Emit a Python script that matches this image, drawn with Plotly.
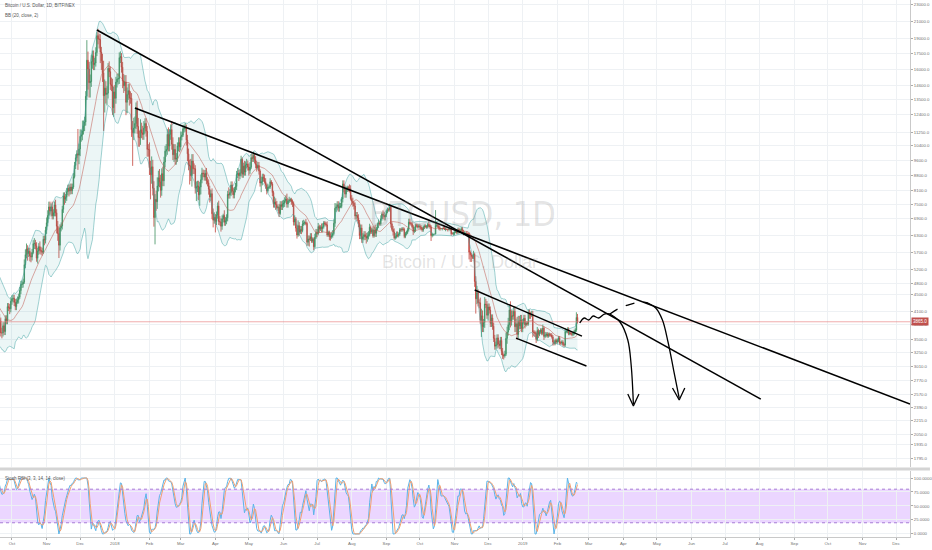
import numpy as np
import pandas as pd
import plotly.graph_objects as go

# ---------------- daily closes, BTC/USD (Bitfinex), one list per month ----------------
c_1708 = [4380, 4280, 4110, 4140, 4060, 4000, 4100, 4150, 4330, 4370, 4350, 4380, 4380, 4580, 4570, 4740]
c_1709 = [4920, 4580, 4620, 4300, 4430, 4610, 4620, 4310, 4330, 4250, 4220, 4170, 3880, 3240, 3690,
          3700, 3690, 4090, 3920, 3880, 3630, 3630, 3780, 3660, 3930, 3890, 4210, 4190, 4160, 4340]
c_1710 = [4400, 4410, 4310, 4210, 4320, 4370, 4440, 4610, 4770, 4780, 4830, 5330, 5640, 5830, 5680, 5750,
          5600, 5570, 5710, 6000, 6010, 5930, 5530, 5750, 5900, 5780, 5750, 5720, 6150, 6130, 6470]
c_1711 = [6750, 7030, 7380, 7210, 7380, 7020, 7140, 7460, 7140, 6620, 6350, 5950, 6560, 6630, 7280,
          7850, 7700, 7790, 8040, 8200, 8070, 8250, 8090, 8250, 8750, 9320, 9730, 9950, 9880, 10230]
c_1712 = [10980, 11070, 11320, 11650, 11900, 13750, 16850, 16050, 14850, 14950, 16730, 17280, 16430, 16590, 17600,
          19350, 19000, 18950, 17640, 16800, 15700, 13800, 14400, 13900, 14000, 16100, 15800, 14700, 14600, 12900, 14100]
c_1801 = [13600, 14900, 15150, 15200, 17100, 17200, 16200, 15000, 14600, 14900, 13300, 13900, 14200, 13600, 13600,
          11400, 11200, 11500, 11800, 12900, 11600, 10900, 10900, 11400, 11200, 11100, 11500, 11800, 11300, 10200, 10200]
c_1802 = [9200, 8850, 9250, 8200, 6950, 7700, 7600, 8300, 8700, 8500, 8100, 8900, 8550, 9500,
          10100, 10200, 11100, 10400, 11100, 11400, 10500, 9900, 10200, 9650, 9700, 10400, 10600, 10350]
c_1803 = [10950, 11050, 11450, 11500, 11500, 10750, 9950, 9350, 9300, 8800, 9550, 9150, 9150, 8200, 8270, 8300,
          7900, 8250, 8600, 8930, 8900, 8730, 8920, 8550, 8450, 8150, 7800, 7950, 7100, 6850, 6950]
c_1804 = [6800, 7050, 7420, 6800, 6780, 6620, 6900, 7030, 6770, 6830, 6940, 7920, 7890, 8000, 8350,
          8060, 7900, 8170, 8280, 8860, 8920, 8800, 8940, 9650, 8870, 9280, 8980, 9350, 9390, 9240]
c_1805 = [9070, 9220, 9740, 9700, 9860, 9620, 9370, 9190, 9320, 9030, 8440, 8500, 8720, 8680, 8500, 8340,
          8080, 8240, 8250, 8500, 8400, 8000, 7500, 7590, 7480, 7350, 7360, 7110, 7470, 7400, 7500]
c_1806 = [7530, 7640, 7720, 7500, 7620, 7660, 7690, 7620, 7530, 6780, 6900, 6550, 6300, 6640, 6400,
          6500, 6460, 6700, 6730, 6760, 6720, 6050, 6160, 6150, 6240, 6090, 6150, 5900, 6220, 6390]
c_1807 = [6350, 6610, 6510, 6590, 6530, 6600, 6750, 6710, 6670, 6300, 6390, 6240, 6230, 6270, 6350, 6730,
          7320, 7380, 7470, 7330, 7400, 7400, 7720, 8400, 8170, 7930, 8190, 8230, 8210, 8170, 7730]
c_1808 = [7620, 7540, 7420, 7010, 7030, 6940, 6720, 6280, 6550, 6150, 6240, 6310, 6250, 6190, 6270, 6310,
          6580, 6400, 6490, 6270, 6480, 6360, 6530, 6690, 6740, 6710, 6900, 7090, 7040, 6980, 7040]
c_1809 = [7190, 7270, 7260, 7370, 6700, 6500, 6410, 6200, 6240, 6300, 6280, 6330, 6490, 6480, 6520,
          6500, 6250, 6350, 6390, 6490, 6770, 6720, 6710, 6600, 6430, 6470, 6650, 6640, 6600, 6630]
c_1810 = [6590, 6530, 6480, 6580, 6620, 6590, 6600, 6680, 6650, 6590, 6280, 6320, 6330, 6330, 6650, 6650,
          6620, 6540, 6520, 6530, 6540, 6530, 6500, 6510, 6500, 6490, 6500, 6500, 6340, 6340, 6350]
c_1811 = [6390, 6420, 6390, 6500, 6420, 6460, 6530, 6420, 6350, 6370, 6370, 6360, 6330, 5720, 5640,
          5580, 5560, 5650, 4850, 4400, 4550, 4300, 4300, 3900, 4000, 3760, 3850, 4270, 4260, 4010]
c_1812 = [4200, 4130, 3830, 3950, 3770, 3520, 3370, 3390, 3530, 3410, 3380, 3480, 3270, 3200, 3190, 3220,
          3520, 3650, 3800, 4130, 3860, 4000, 3990, 4100, 3760, 3820, 3600, 3880, 3780, 3900, 3720]
c_1901 = [3850, 3940, 3800, 3840, 3820, 4060, 4010, 4010, 4030, 3650, 3640, 3620, 3500, 3680, 3600, 3650,
          3690, 3620, 3730, 3560, 3580, 3610, 3570, 3600, 3590, 3590, 3550, 3450, 3420, 3480, 3450]
c_1902 = [3480, 3530, 3430, 3430, 3450, 3400, 3390, 3660, 3660, 3710, 3620, 3630, 3620, 3600, 3620,
          3660, 3690, 3960, 3865]

# ---------------- wick lengths beyond the body (percent), per month ----------------
u_1708 = [3, 2, 4, 2, 3, 3, 4, 2, 2, 2, 2, 1, 2, 2, 2, 2]
d_1708 = [3, 3, 3, 2, 3, 4, 5, 2, 2, 2, 1, 1, 2, 1, 2, 1]
u_1709 = [3, 4, 2, 3, 2, 2, 2, 3, 3, 2, 2, 2, 3, 2, 2, 3, 2, 2, 2, 3, 2, 3, 2, 2, 2, 2, 2, 2, 2, 2]
d_1709 = [3, 5, 4, 4, 3, 3, 2, 4, 3, 2, 2, 3, 4, 10, 12, 4, 3, 2, 3, 3, 2, 3, 2, 2, 2, 2, 2, 2, 3, 2]
u_1710 = [2, 2, 2, 2, 2, 2, 2, 2, 2, 2, 2, 3, 3, 3, 2, 2, 2, 2, 2, 2, 3, 2, 2, 2, 2, 3, 2, 2, 2, 2, 2]
d_1710 = [2, 2, 2, 2, 2, 1, 2, 1, 2, 2, 2, 1, 2, 2, 4, 2, 3, 3, 2, 1, 3, 2, 2, 3, 2, 2, 2, 2, 1, 3, 2]
u_1711 = [3, 3, 3, 3, 2, 3, 2, 2, 3, 2, 3, 3, 2, 2, 2, 2, 2, 2, 2, 2, 2, 2, 2, 2, 2, 2, 2, 2, 15, 3]
d_1711 = [2, 2, 2, 2, 3, 2, 2, 2, 2, 4, 4, 7, 3, 2, 2, 2, 3, 2, 2, 2, 3, 2, 2, 2, 1, 1, 2, 2, 8, 5]
u_1712 = [4, 3, 6, 3, 3, 3, 12, 5, 4, 4, 4, 3, 3, 3, 3, 2, 4, 3, 3, 3, 4, 7, 5, 4, 4, 3, 4, 3, 4, 4, 3]
d_1712 = [4, 3, 3, 2, 3, 2, 2, 11, 8, 8, 3, 4, 3, 3, 2, 2, 3, 5, 6, 5, 5, 18, 9, 5, 6, 3, 3, 3, 3, 4, 5]
u_1801 = [4, 3, 3, 3, 3, 3, 2, 3, 4, 4, 4, 4, 4, 4, 4, 3, 5, 6, 4, 3, 4, 5, 4, 6, 4, 4, 4, 3, 3, 3, 3]
d_1801 = [8, 3, 3, 3, 3, 3, 3, 4, 4, 3, 7, 6, 3, 4, 3, 4, 17, 4, 3, 3, 4, 5, 5, 4, 3, 3, 3, 3, 3, 4, 4]
u_1802 = [4, 4, 6, 4, 4, 3, 5, 5, 4, 5, 4, 3, 4, 3, 3, 3, 3, 4, 3, 3, 5, 4, 3, 3, 3, 2, 3, 3]
d_1802 = [4, 13, 5, 4, 5, 14, 5, 4, 3, 3, 4, 3, 3, 3, 3, 3, 3, 3, 3, 3, 3, 3, 4, 3, 3, 2, 3, 3]
u_1803 = [3, 2, 2, 2, 3, 2, 3, 3, 3, 4, 4, 4, 3, 2, 3, 3, 3, 3, 3, 3, 2, 2, 2, 3, 2, 2, 2, 2, 3, 3, 3]
d_1803 = [2, 2, 1, 2, 2, 3, 4, 3, 10, 3, 6, 3, 3, 3, 7, 3, 3, 6, 4, 2, 2, 2, 2, 2, 2, 3, 3, 2, 3, 4, 2]
u_1804 = [2, 2, 2, 3, 3, 2, 2, 1, 3, 2, 2, 2, 4, 2, 2, 2, 2, 1, 2, 2, 3, 2, 2, 2, 1, 2, 3, 2, 3, 2]
d_1804 = [6, 2, 2, 2, 2, 3, 2, 2, 2, 2, 2, 2, 2, 2, 2, 2, 2, 2, 2, 2, 2, 3, 2, 2, 2, 2, 2, 2, 2, 2]
u_1805 = [2, 3, 2, 2, 2, 1, 2, 2, 2, 2, 1, 3, 2, 2, 2, 2, 1, 2, 1, 2, 1, 1, 1, 3, 2, 2, 1, 2, 2, 2, 2]
d_1805 = [3, 2, 1, 2, 2, 2, 2, 2, 1, 2, 2, 5, 2, 2, 1, 2, 2, 1, 1, 1, 1, 2, 2, 2, 3, 1, 2, 2, 1, 2, 2]
u_1806 = [2, 2, 2, 3, 1, 2, 1, 1, 1, 1, 2, 1, 2, 3, 2, 2, 2, 2, 2, 1, 2, 1, 2, 2, 2, 2, 1, 1, 2, 2]
d_1806 = [2, 2, 1, 2, 2, 1, 1, 2, 2, 2, 2, 2, 2, 1, 2, 1, 2, 1, 1, 1, 1, 2, 2, 4, 1, 1, 1, 2, 1, 1]
u_1807 = [2, 2, 1, 1, 2, 2, 1, 1, 1, 2, 1, 1, 2, 2, 2, 2, 3, 2, 2, 2, 2, 2, 1, 2, 2, 2, 1, 1, 1, 2, 2]
d_1807 = [2, 1, 2, 1, 2, 2, 1, 1, 1, 1, 1, 2, 2, 1, 1, 1, 2, 2, 2, 2, 2, 1, 1, 2, 2, 2, 2, 2, 2, 2, 1]
u_1808 = [2, 2, 1, 2, 2, 2, 2, 2, 2, 2, 2, 2, 2, 2, 2, 2, 2, 1, 1, 2, 2, 3, 1, 1, 2, 1, 2, 1, 2, 2, 1]
d_1808 = [2, 2, 2, 2, 2, 2, 2, 2, 2, 2, 2, 2, 2, 3, 2, 2, 1, 1, 1, 1, 1, 2, 2, 1, 2, 1, 1, 1, 2, 2, 2]
u_1809 = [1, 1, 1, 2, 1, 1, 2, 2, 2, 2, 2, 1, 1, 1, 1, 1, 1, 1, 1, 1, 2, 2, 1, 1, 1, 2, 1, 1, 1, 1]
d_1809 = [1, 1, 1, 1, 2, 1, 2, 1, 1, 1, 1, 1, 1, 1, 1, 1, 1, 1, 1, 1, 1, 1, 1, 1, 2, 1, 1, 1, 1, 1]
u_1810 = [1, 1, 1, 1, 1, 1, 1, 1, 2, 1, 1, 1, 0, 0, 9, 2, 1, 1, 1, 0, 0, 1, 1, 1, 0, 0, 1, 0, 0, 1, 1]
d_1810 = [1, 1, 1, 1, 1, 0, 1, 1, 1, 1, 3, 1, 1, 0, 0, 1, 1, 1, 1, 0, 1, 0, 0, 1, 0, 1, 0, 1, 1, 0, 1]
u_1811 = [1, 1, 1, 1, 1, 1, 1, 1, 1, 1, 0, 1, 0, 1, 1, 1, 1, 2, 1, 3, 4, 2, 2, 3, 4, 3, 2, 4, 3, 2]
d_1811 = [1, 0, 1, 1, 1, 1, 1, 1, 1, 0, 1, 1, 1, 4, 4, 3, 1, 1, 3, 8, 3, 2, 3, 2, 9, 3, 3, 3, 2, 2]
u_1812 = [2, 2, 2, 2, 2, 2, 2, 2, 2, 2, 2, 2, 2, 2, 1, 2, 3, 3, 4, 3, 5, 3, 3, 3, 3, 3, 4, 3, 3, 3, 3]
d_1812 = [3, 2, 2, 2, 2, 2, 2, 2, 2, 2, 2, 2, 2, 2, 2, 1, 1, 3, 2, 3, 3, 2, 2, 2, 3, 3, 3, 2, 2, 2, 2]
u_1901 = [2, 2, 2, 1, 1, 2, 2, 2, 2, 2, 1, 1, 1, 2, 1, 1, 1, 1, 2, 1, 2, 1, 1, 1, 1, 1, 1, 1, 1, 1, 1]
d_1901 = [2, 1, 2, 1, 1, 1, 2, 2, 1, 3, 2, 2, 2, 1, 2, 1, 1, 1, 1, 2, 1, 1, 1, 1, 1, 1, 1, 2, 1, 1, 1]
u_1902 = [1, 1, 1, 1, 1, 1, 1, 2, 1, 1, 1, 1, 1, 1, 1, 1, 1, 3, 2]
d_1902 = [1, 1, 1, 1, 1, 1, 1, 1, 1, 1, 1, 1, 1, 1, 1, 1, 1, 1, 1]

month_blocks = [
    ("2017-08-16", c_1708, u_1708, d_1708), ("2017-09-01", c_1709, u_1709, d_1709),
    ("2017-10-01", c_1710, u_1710, d_1710), ("2017-11-01", c_1711, u_1711, d_1711),
    ("2017-12-01", c_1712, u_1712, d_1712), ("2018-01-01", c_1801, u_1801, d_1801),
    ("2018-02-01", c_1802, u_1802, d_1802), ("2018-03-01", c_1803, u_1803, d_1803),
    ("2018-04-01", c_1804, u_1804, d_1804), ("2018-05-01", c_1805, u_1805, d_1805),
    ("2018-06-01", c_1806, u_1806, d_1806), ("2018-07-01", c_1807, u_1807, d_1807),
    ("2018-08-01", c_1808, u_1808, d_1808), ("2018-09-01", c_1809, u_1809, d_1809),
    ("2018-10-01", c_1810, u_1810, d_1810), ("2018-11-01", c_1811, u_1811, d_1811),
    ("2018-12-01", c_1812, u_1812, d_1812), ("2019-01-01", c_1901, u_1901, d_1901),
    ("2019-02-01", c_1902, u_1902, d_1902),
]

# ---------------- drawings made on the chart (date, price) ----------------
tl_a_dates = ["2017-12-16", "2019-08-02"]
tl_a_price = [19980, 2500]
tl_b_dates = ["2018-01-19", "2019-12-13 12:00"]
tl_b_price = [12880, 2433]
ch_up_dates = ["2018-11-19", "2019-02-23"]
ch_up_price = [4622, 3567]
ch_lo_dates = ["2018-12-26", "2019-02-27"]
ch_lo_price = [3527, 3013]
fc_wave_dates = ["2019-02-21", "2019-02-25", "2019-03-01", "2019-03-05", "2019-03-10", "2019-03-15", "2019-03-20"]
fc_wave_price = [3838, 3948, 3904, 3993, 3948, 4038, 4038]
fc_drop1_dates = ["2019-03-20", "2019-03-29", "2019-04-05", "2019-04-08", "2019-04-10"]
fc_drop1_price = [4038, 3860, 3488, 3031, 2433]
fc_arrow1_dates = ["2019-04-05", "2019-04-10", "2019-04-15"]
fc_arrow1_price = [2573, 2406, 2573]
fc_arc_dates = ["2019-03-20", "2019-03-27", "2019-04-05", "2019-04-16", "2019-04-23"]
fc_arc_price = [4038, 4153, 4247, 4320, 4296]
fc_drop2_dates = ["2019-04-23", "2019-04-30", "2019-05-06", "2019-05-11", "2019-05-16", "2019-05-21"]
fc_drop2_price = [4296, 4177, 3904, 3449, 2946, 2516]
fc_arrow2_dates = ["2019-05-15", "2019-05-21", "2019-05-26"]
fc_arrow2_price = [2662, 2488, 2662]

# ---------------- axis ticks ----------------
price_ticks = [1795, 1935, 2050, 2215, 2390, 2570, 2770, 3010, 3250, 3500, 3800, 4100, 4500, 4800, 5200,
               5700, 6300, 6900, 7500, 8100, 8800, 9600, 10400, 11250, 12400, 13500, 14600, 16000,
               17500, 19000, 21000, 23000]
stoch_ticks = [0, 25, 50, 75, 100]
month_tick_dates = pd.date_range("2017-10-01", "2019-12-01", freq="MS")
month_tick_text = [d.strftime("%Y") if d.month == 1 else d.strftime("%b") for d in month_tick_dates]

# ---------------- build OHLC ----------------
dates, close, wup, wdn = [], [], [], []
for start, c, u, d in month_blocks:
    dates += list(pd.date_range(start, periods=len(c), freq="D"))
    close += c
    wup += (u + [1] * len(c))[:len(c)]
    wdn += (d + [1] * len(c))[:len(c)]
df = pd.DataFrame({"close": close, "up": wup, "dn": wdn}, index=pd.DatetimeIndex(dates))
df["open"] = df["close"].shift(1).fillna(df["close"])
body_hi = df[["open", "close"]].max(axis=1)
body_lo = df[["open", "close"]].min(axis=1)
df["high"] = body_hi * (1 + df["up"] / 100.0)
df["low"] = body_lo * (1 - df["dn"] / 100.0)

# Bollinger Bands (20, close, 2)
basis = df["close"].rolling(20).mean()
dev = df["close"].rolling(20).std(ddof=0)
bb_up = basis + 2 * dev
bb_lo = basis - 2 * dev

# Stoch RSI (3, 3, 14, 14)
delta = df["close"].diff()
gain = delta.clip(lower=0)
loss = (-delta).clip(lower=0)
ag = gain.ewm(alpha=1 / 14, adjust=False).mean()
al = loss.ewm(alpha=1 / 14, adjust=False).mean()
rsi = 100 - 100 / (1 + ag / al)
rmin = rsi.rolling(14).min()
rmax = rsi.rolling(14).max()
stoch = (rsi - rmin) / (rmax - rmin) * 100
k_line = stoch.rolling(3).mean()
d_line = k_line.rolling(3).mean()

vis = df.index >= pd.Timestamp("2017-09-19")
dv = df[vis]

X_RANGE = ["2017-09-20 07:00", "2019-12-13 12:00"]
Y_RANGE = [3.2321, 4.3739]
last_close = df["close"].iloc[-1]

fig = go.Figure()

# Bollinger fill + lines
fig.add_trace(go.Scatter(x=dv.index, y=bb_lo[vis], mode="lines", line=dict(color="rgba(60,160,160,0.6)", width=0.8),
                         hoverinfo="skip", showlegend=False, xaxis="x", yaxis="y"))
fig.add_trace(go.Scatter(x=dv.index, y=bb_up[vis], mode="lines", line=dict(color="rgba(60,160,160,0.6)", width=0.8),
                         fill="tonexty", fillcolor="rgba(40,150,150,0.09)",
                         hoverinfo="skip", showlegend=False, xaxis="x", yaxis="y"))
fig.add_trace(go.Scatter(x=dv.index, y=basis[vis], mode="lines", line=dict(color="rgba(190,80,70,0.7)", width=0.7),
                         hoverinfo="skip", showlegend=False, xaxis="x", yaxis="y"))

# candles
fig.add_trace(go.Candlestick(x=dv.index, open=dv["open"], high=dv["high"], low=dv["low"], close=dv["close"],
                             increasing=dict(line=dict(color="#3f8f5e", width=0.8), fillcolor="#3f8f5e"),
                             decreasing=dict(line=dict(color="#c4443b", width=0.8), fillcolor="#c4443b"),
                             whiskerwidth=0, hoverinfo="skip", showlegend=False, xaxis="x", yaxis="y"))

# current price line
fig.add_trace(go.Scatter(x=X_RANGE, y=[last_close, last_close], mode="lines",
                         line=dict(color="rgba(230,120,120,0.6)", width=1),
                         hoverinfo="skip", showlegend=False, xaxis="x", yaxis="y"))

# drawings
def draw(xs, ys, dash="solid", shape="linear", width=1.6):
    fig.add_trace(go.Scatter(x=xs, y=ys, mode="lines", line=dict(color="#000000", width=width, dash=dash, shape=shape),
                             hoverinfo="skip", showlegend=False, xaxis="x", yaxis="y"))

draw(tl_a_dates, tl_a_price)
draw(tl_b_dates, tl_b_price)
draw(ch_up_dates, ch_up_price, width=1.4)
draw(ch_lo_dates, ch_lo_price, width=1.4)
draw(fc_wave_dates, fc_wave_price, shape="spline", width=1.3)
draw(fc_drop1_dates, fc_drop1_price, shape="spline", width=1.3)
draw(fc_arrow1_dates, fc_arrow1_price, width=1.3)
draw(fc_arc_dates, fc_arc_price, dash="dash", shape="spline", width=1.3)
draw(fc_drop2_dates, fc_drop2_price, shape="spline", width=1.3)
draw(fc_arrow2_dates, fc_arrow2_price, width=1.3)

# stoch RSI
fig.add_trace(go.Scatter(x=dv.index, y=k_line[vis], mode="lines", line=dict(color="#5ab4e8", width=1),
                         hoverinfo="skip", showlegend=False, xaxis="x2", yaxis="y2"))
fig.add_trace(go.Scatter(x=dv.index, y=d_line[vis], mode="lines", line=dict(color="#f2a071", width=1),
                         hoverinfo="skip", showlegend=False, xaxis="x2", yaxis="y2"))

axis_font = dict(family="Liberation Sans, Arial, sans-serif", size=4.3, color="#6f6f6f")
grid = "#eef1f4"

SPLIT = 1 - 467 / 537.0
LOWER_TOP = 66 / 537.0

fig.update_layout(
    width=932, height=550,
    margin=dict(l=0, r=20, t=0, b=13),
    paper_bgcolor="white", plot_bgcolor="white",
    font=dict(family="Liberation Sans, Arial, sans-serif"),
    xaxis=dict(domain=[0, 1], anchor="y", range=X_RANGE, type="date", showticklabels=False,
               tickvals=month_tick_dates, gridcolor=grid, gridwidth=1, showline=False, zeroline=False,
               rangeslider=dict(visible=False)),
    yaxis=dict(domain=[SPLIT, 1], anchor="x", type="log", range=Y_RANGE, side="right",
               tickvals=price_ticks, ticktext=[f"{v:.1f}" for v in price_ticks], tickfont=axis_font,
               ticks="outside", ticklen=2, tickcolor="#aaaaaa", gridcolor=grid, showline=True,
               linecolor="#c9c9c9", linewidth=1, zeroline=False),
    xaxis2=dict(domain=[0, 1], anchor="y2", matches="x", range=X_RANGE, type="date",
                tickvals=month_tick_dates, ticktext=month_tick_text, tickfont=axis_font,
                ticks="outside", ticklen=2, tickcolor="#aaaaaa", gridcolor=grid, showline=True,
                linecolor="#c9c9c9", linewidth=1, zeroline=False, rangeslider=dict(visible=False)),
    yaxis2=dict(domain=[0, LOWER_TOP], anchor="x2", range=[-5.4, 112.5], side="right",
                tickvals=stoch_ticks, ticktext=[f"{v:.4f}" for v in stoch_ticks], tickfont=axis_font,
                ticks="outside", ticklen=2, tickcolor="#aaaaaa", gridcolor=grid, showline=True,
                linecolor="#c9c9c9", linewidth=1, zeroline=False),
    shapes=[
        dict(type="rect", xref="paper", yref="y2", x0=0, x1=1, y0=20, y1=80,
             fillcolor="rgba(153,51,255,0.2)", line=dict(width=0), layer="below"),
        dict(type="line", xref="paper", yref="y2", x0=0, x1=1, y0=80, y1=80,
             line=dict(color="#a77bd6", width=1, dash="dot")),
        dict(type="line", xref="paper", yref="y2", x0=0, x1=1, y0=20, y1=20,
             line=dict(color="#a77bd6", width=1, dash="dot")),
        dict(type="line", xref="paper", yref="paper", x0=0, x1=932 / 912.0, y0=(537 - 469) / 537.0,
             y1=(537 - 469) / 537.0, line=dict(color="#d4d4d4", width=3)),
    ],
    annotations=[
        dict(xref="paper", yref="paper", x=0.508, y=(537 - 214) / 537.0, text="BTCUSD, 1D", showarrow=False,
             font=dict(family="Liberation Sans Narrow, DejaVu Sans Condensed, Liberation Sans, sans-serif",
                       size=34, color="rgba(140,140,140,0.24)"), xanchor="center", yanchor="middle"),
        dict(xref="paper", yref="paper", x=0.505, y=(537 - 262) / 537.0, text="Bitcoin / U.S. Dollar", showarrow=False,
             font=dict(size=18, color="rgba(140,140,140,0.24)"), xanchor="center", yanchor="middle"),
        dict(xref="paper", yref="paper", x=0.003, y=1 - 5 / 537.0, text="Bitcoin / U.S. Dollar, 1D, BITFINEX",
             showarrow=False, font=dict(size=4.5, color="#555555"), xanchor="left", yanchor="middle"),
        dict(xref="paper", yref="paper", x=0.003, y=1 - 15 / 537.0, text="BB (20, close, 2)",
             showarrow=False, font=dict(size=4.5, color="#555555"), xanchor="left", yanchor="middle"),
        dict(xref="paper", yref="paper", x=0.003, y=(537 - 478) / 537.0, text="Stoch RSI (3, 3, 14, 14, close)",
             showarrow=False, font=dict(size=4.5, color="#555555"), xanchor="left", yanchor="middle"),
        dict(xref="paper", yref="y", x=1.001, y=float(np.log10(last_close)), text=f"{last_close:.1f}",
             showarrow=False, font=dict(size=4.5, color="white"), bgcolor="#c0504d", xanchor="left",
             yanchor="middle", borderpad=1),
    ],
)

fig.write_html("out.html", config={"displayModeBar": False},
               post_script="document.body.style.margin='0';document.body.style.padding='0';")
